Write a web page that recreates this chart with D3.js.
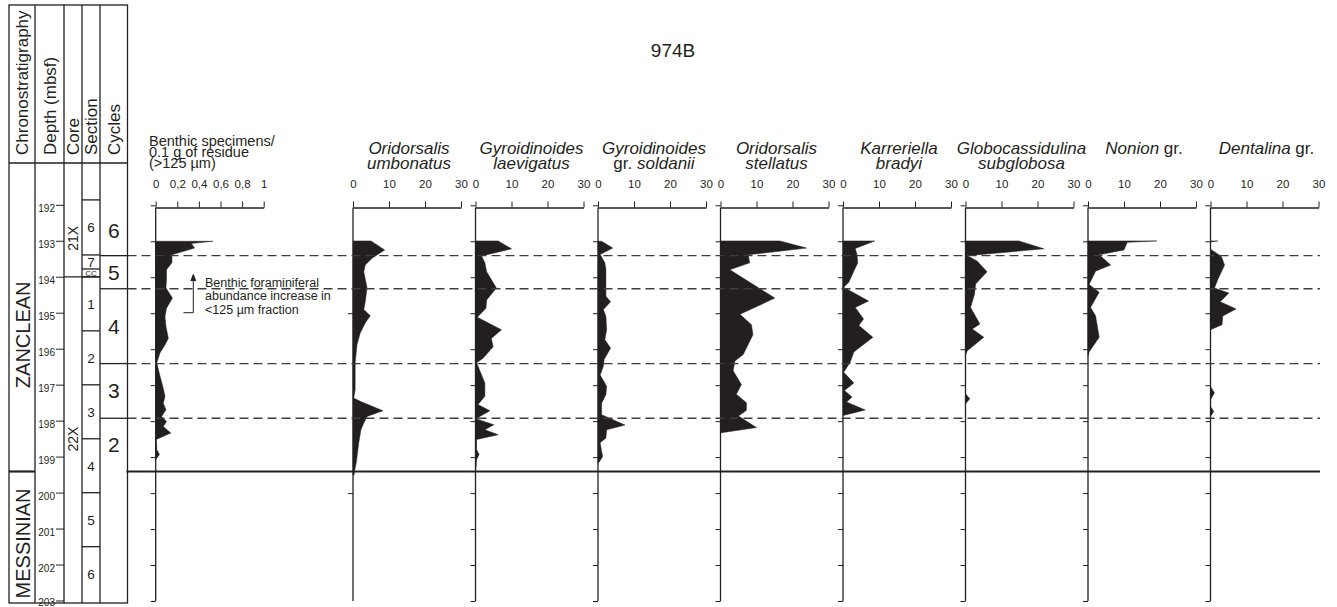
<!DOCTYPE html>
<html><head><meta charset="utf-8">
<script src="https://cdn.jsdelivr.net/npm/d3@7/dist/d3.min.js"></script>
<style>
body{margin:0;background:#fff}
svg{display:block}
text{font-family:"Liberation Sans",Arial,Helvetica,sans-serif;fill:#231f20}
</style></head>
<body><svg id="c" width="1337" height="607"></svg>
<script>
// ---------------- DATA ----------------
const title = "974B";
const depthTicks = [192,193,194,195,196,197,198,199,200,201,202,203];
const umbonatusDepthTicks = [195,200];
const benthicTicks = [0,0.2,0.4,0.6,0.8,1];
const benthicTickLabels = ["0","0,2","0,4","0,6","0,8","1"];
const speciesTicks = [0,10,20,30];
const headerCols = ["Chronostratigraphy","Depth (mbsf)","Core","Section","Cycles"];
const stages = ["ZANCLEAN","MESSINIAN"];
const stageLabelDepth = [195.6, 201.4];
const stageBoundary = 199.4;
const cores = ["21X","22X"];
const coreLabelDepth = [192.92, 198.5];
const coreBoundary = 193.99;
const sections = ["6","7","CC","1","2","3","4","5","6"];
const sectionTops = [191.85,193.38,193.77,193.99,195.49,196.99,198.49,199.99,201.49];
const sectionEnd = 203;
const cycles = ["6","5","4","3","2"];
const cycleBounds = [192.0,193.4,194.32,196.4,197.92,199.4];
const benthicTitle = ["Benthic specimens/","0.1 g of residue","(>125 \u00b5m)"];
const annotation = ["Benthic foraminiferal","abundance increase in","<125 \u00b5m fraction"];

// [depth (mbsf), value]
const benthic = [[193.0,0.53],[193.06,0.33],[193.19,0.36],[193.375,0.15],[193.6,0.15],[193.79,0.10],[194.07,0.10],[194.3,0.095],[194.58,0.155],[194.86,0.10],[195.1,0.086],[195.37,0.095],[195.7,0.117],[195.88,0.086],[196.1,0.04],[196.38,0.01],[196.75,0.04],[197.03,0.065],[197.31,0.086],[197.5,0.07],[197.68,0.095],[197.87,0.055],[198.01,0.10],[198.15,0.07],[198.33,0.14],[198.51,0.005],[198.79,0.01],[198.93,0.035],[199.07,0.0]];
const oUmbonatus = [[192.99,5.0],[193.24,8.8],[193.47,5.3],[193.66,3.4],[193.85,3.0],[194.3,3.9],[194.68,3.4],[194.9,3.0],[195.07,4.8],[195.27,3.4],[195.55,2.0],[195.88,1.1],[196.38,0.6],[197.13,0.6],[197.36,0.2],[197.45,2.0],[197.71,8.3],[197.87,3.9],[198.05,3.0],[198.24,2.2],[198.6,1.6],[199.16,0.9],[199.35,0.5],[199.5,0.3]];
const gLaevigatus = [[192.99,6.3],[193.21,10.0],[193.41,1.7],[193.6,2.6],[193.85,3.1],[194.3,5.8],[194.63,3.1],[194.86,2.9],[195.11,0.5],[195.46,7.2],[195.7,4.4],[195.93,4.9],[196.25,2.1],[196.38,0.3],[196.94,2.6],[197.31,2.6],[197.54,0.7],[197.71,4.0],[197.87,1.2],[197.94,0.3],[198.1,5.1],[198.24,2.6],[198.38,6.3],[198.51,0.3],[198.79,0.3],[198.93,1.0],[199.07,0.3],[199.35,0.1]];
const gSoldanii = [[193.0,1.0],[193.19,4.1],[193.37,0.6],[193.6,1.9],[193.79,2.2],[194.53,2.2],[194.68,3.5],[194.9,1.5],[195.09,2.2],[195.46,2.4],[195.74,1.9],[195.97,3.5],[196.29,1.7],[196.47,1.5],[196.72,0.6],[197.03,2.4],[197.26,2.2],[197.5,1.0],[197.82,1.0],[198.11,7.5],[198.24,2.4],[198.47,2.2],[198.6,0.6],[198.84,1.0],[198.98,1.3],[199.16,0.2]];
const oStellatus = [[192.99,16.5],[193.19,23.9],[193.375,7.7],[193.6,8.1],[193.79,2.6],[194.58,15.1],[195.03,5.4],[195.32,8.6],[195.6,9.0],[195.97,7.2],[196.15,6.3],[196.33,4.0],[196.6,3.5],[196.98,5.8],[197.25,4.4],[197.49,7.2],[197.7,7.2],[197.86,5.0],[198.18,10.0],[198.32,0.3]];
const kBradyi = [[192.99,8.8],[193.2,3.4],[193.375,3.9],[193.6,4.1],[193.83,3.0],[194.14,1.6],[194.28,0.2],[194.66,7.1],[194.84,3.4],[195.16,5.7],[195.34,4.4],[195.67,8.3],[196.08,3.0],[196.36,2.0],[196.64,0.2],[196.94,3.0],[197.15,0.4],[197.33,2.5],[197.47,1.0],[197.69,6.2],[197.84,0.1]];
const gSubglobosa = [[192.99,14.8],[193.21,21.8],[193.4,0.5],[193.55,3.2],[193.85,6.0],[194.19,2.8],[194.47,2.5],[194.84,1.4],[195.3,4.0],[195.44,1.9],[195.67,5.1],[196.04,0.5],[196.17,0],[197.24,0],[197.38,1.2],[197.52,0]];
const nonion = [[192.99,19.1],[193.03,10.9],[193.24,10.0],[193.375,3.1],[193.66,6.3],[193.83,2.1],[194.2,0.3],[194.42,3.1],[194.84,0.7],[195.07,2.1],[195.67,3.1],[196.08,0.3],[196.2,0]];
const dentalina = [[192.99,2.0],[193.02,0],[193.22,0],[193.42,3.0],[193.66,3.9],[194.07,2.0],[194.3,1.1],[194.44,5.1],[194.68,2.7],[194.88,7.1],[195.08,3.4],[195.32,3.2],[195.46,0],[197.03,0],[197.22,1.1],[197.4,0],[197.59,0],[197.73,0.9],[197.87,0]];

// title segments: [text, italic]
const speciesTitles = [
  [[["Oridorsalis",1]],[["umbonatus",1]]],
  [[["Gyroidinoides",1]],[["laevigatus",1]]],
  [[["Gyroidinoides",1]],[["gr. ",0],["soldanii",1]]],
  [[["Oridorsalis",1]],[["stellatus",1]]],
  [[["Karreriella",1]],[["bradyi",1]]],
  [[["Globocassidulina",1]],[["subglobosa",1]]],
  [[["Nonion",1],[" gr.",0]]],
  [[["Dentalina",1],[" gr.",0]]]
];
const speciesData = [oUmbonatus,gLaevigatus,gSoldanii,oStellatus,kBradyi,gSubglobosa,nonion,dentalina];

// ---------------- DRAW ----------------
const ink = "#231f20";
const svg = d3.select("#c");
const y = d3.scaleLinear().domain([192,203]).range([205.3,601]);
const axisY = 207.5;

svg.append("text").attr("x",673).attr("y",57).attr("text-anchor","middle")
  .style("font-size","19px").text(title);

// ---- strat columns ----
const colX = [9,35,64,82,100,127.5];
const fTop = 5, fBot = 603, hBot = 163;
const g0 = svg.append("g").attr("stroke",ink).attr("stroke-width",1.3).attr("fill","none");
g0.append("rect").attr("x",colX[0]).attr("y",fTop).attr("width",colX[5]-colX[0]).attr("height",fBot-fTop);
colX.slice(1,5).forEach(x=>g0.append("line").attr("x1",x).attr("x2",x).attr("y1",fTop).attr("y2",fBot));
g0.append("line").attr("x1",colX[0]).attr("x2",colX[5]).attr("y1",hBot).attr("y2",hBot);

function vtext(x,yy,str,size,anchor){
  return svg.append("text").attr("transform",`translate(${x},${yy}) rotate(-90)`)
    .attr("text-anchor",anchor||"start").attr("dy","0.35em").style("font-size",size+"px").text(str);
}
const colCenters = colX.slice(0,5).map((x,i)=>(x+colX[i+1])/2);
headerCols.forEach((h,i)=>vtext(colCenters[i]+0.5,155,h,17,"start"));

vtext(colCenters[0]+0.5,y(stageLabelDepth[0]),stages[0],20,"middle");
vtext(colCenters[0]+0.5,y(stageLabelDepth[1]),stages[1],20,"middle");
g0.append("line").attr("x1",colX[0]).attr("x2",colX[1]).attr("y1",y(stageBoundary)).attr("y2",y(stageBoundary)).attr("stroke-width",2.2);

depthTicks.forEach(d=>{
  g0.append("line").attr("x1",56).attr("x2",colX[2]).attr("y1",y(d)).attr("y2",y(d)).attr("stroke-width",1);
  svg.append("text").attr("x",55).attr("y",Math.min(y(d)+7,605.5)).attr("text-anchor","end")
    .style("font-size","10px").text(d);
});

g0.append("line").attr("x1",colX[2]).attr("x2",colX[4]).attr("y1",y(coreBoundary)).attr("y2",y(coreBoundary));
cores.forEach((c,i)=>vtext(colCenters[2]+0.5,y(coreLabelDepth[i]),c,14,"middle"));

sectionTops.forEach((t,i)=>{
  g0.append("line").attr("x1",colX[3]).attr("x2",colX[4]).attr("y1",y(t)).attr("y2",y(t));
  const b = i<sectionTops.length-1 ? sectionTops[i+1] : sectionEnd;
  const small = sections[i]==="CC";
  svg.append("text").attr("x",colCenters[3]).attr("y",y((t+b)/2)).attr("dy","0.36em")
    .attr("text-anchor","middle").style("font-size",(small?8:13.5)+"px").text(sections[i]);
});

cycles.forEach((c,i)=>{
  svg.append("text").attr("x",colCenters[4]).attr("y",y((cycleBounds[i]+cycleBounds[i+1])/2)).attr("dy","0.36em")
    .attr("text-anchor","middle").style("font-size","21px").text(c);
});
const plotRight = 1320;
cycleBounds.slice(1,5).forEach(d=>{
  g0.append("line").attr("x1",colX[4]).attr("x2",colX[5]).attr("y1",y(d)).attr("y2",y(d));
});

// ---- panels ----
function drawPanel(x0, data, ticks, labels, domMax, dTicks){
  const x = d3.scaleLinear().domain([0,domMax]).range([x0,x0+108]);
  const g = svg.append("g");
  const area = d3.area().x0(x(0)).x1(d=>x(d[1])).y(d=>y(d[0]));
  g.append("path").datum(data).attr("d",area).attr("fill",ink).attr("stroke",ink).attr("stroke-width",0.5);
  const ax = d3.axisTop(x).tickValues(ticks).tickSize(6).tickSizeOuter(0).tickPadding(14)
    .tickFormat((d,i)=>labels[i]);
  const ga = g.append("g").attr("transform",`translate(0,${axisY})`).call(ax);
  ga.select(".domain").attr("stroke",ink).attr("stroke-width",1.3);
  ga.selectAll(".tick line").attr("stroke",ink).attr("stroke-width",1);
  ga.selectAll(".tick text").style("font-size","11.5px").attr("fill",ink).style("font-family",null);
  const ay = d3.axisLeft(y).tickValues(dTicks||depthTicks).tickSize(5).tickSizeOuter(0).tickFormat("");
  const gy = g.append("g").attr("transform",`translate(${x0},0)`).call(ay);
  gy.select(".domain").attr("stroke",ink).attr("stroke-width",1.3).attr("d",`M0,${axisY}V${y(203)}`);
  gy.selectAll(".tick line").attr("stroke",ink).attr("stroke-width",1);
  return g;
}
drawPanel(155.7, benthic, benthicTicks, benthicTickLabels, 1);
benthicTitle.forEach((t,i)=>svg.append("text").attr("x",149).attr("y",145.7+i*11.3)
  .style("font-size","14.5px").text(t));

speciesData.forEach((data,i)=>{
  const x0 = 353 + i*122.5;
  drawPanel(x0, data, speciesTicks, speciesTicks.map(String), 30, i===0?umbonatusDepthTicks:depthTicks);
  const lines = speciesTitles[i];
  lines.forEach((segs,li)=>{
    const t = svg.append("text").attr("x",x0+56).attr("y",153.5+li*15.5).attr("text-anchor","middle")
      .style("font-size","17px");
    segs.forEach(s=>t.append("tspan").style("font-style",s[1]?"italic":"normal").text(s[0]));
  });
});

// annotation arrow
const ga = svg.append("g").attr("stroke",ink).attr("stroke-width",1).attr("fill","none");
ga.append("path").attr("d","M183.5,312.7H193.3V277");
ga.append("path").attr("d","M190.8,281 L193.3,274.5 L195.8,281").attr("fill",ink);
annotation.forEach((t,i)=>svg.append("text").attr("x",205).attr("y",287+i*13.3).style("font-size","12.5px").text(t));

cycleBounds.slice(1,5).forEach(d=>{
  svg.append("line").attr("x1",colX[5]).attr("x2",plotRight).attr("y1",y(d)).attr("y2",y(d))
    .attr("stroke","#3d3d3d").attr("stroke-width",1.3).attr("stroke-dasharray","9,5");
});
svg.append("line").attr("x1",colX[5]-1).attr("x2",plotRight).attr("y1",y(stageBoundary)).attr("y2",y(stageBoundary))
  .attr("stroke",ink).attr("stroke-width",2.2);
</script></body></html>
